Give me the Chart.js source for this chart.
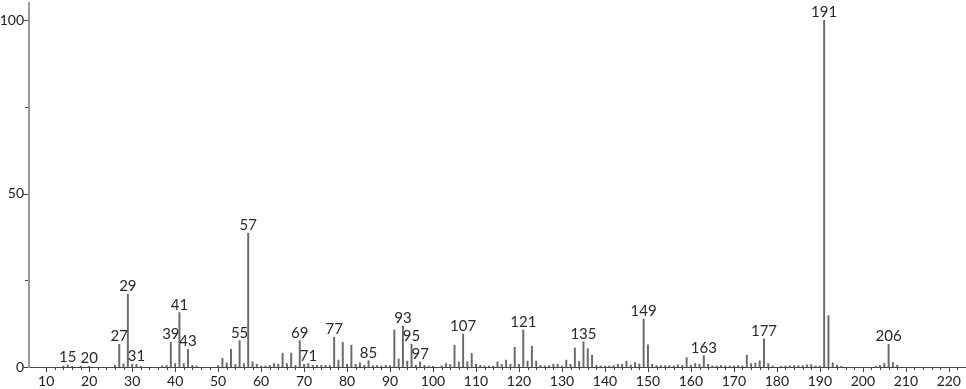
<!DOCTYPE html>
<html>
<head>
<meta charset="utf-8">
<script src="https://cdn.jsdelivr.net/npm/chart.js@4.4.1/dist/chart.umd.min.js"></script>
<style>
  body { margin: 0; background: #fff; }
  #wrap { width: 966px; height: 389px; position: relative; }
</style>
</head>
<body>
<div id="wrap"><canvas id="msChart"></canvas></div>
<script>
// m/z values and relative intensities (%)
const masses = [14, 15, 16, 18, 20, 26, 27, 28, 29, 30, 31, 32, 37, 38, 39, 40, 41, 42, 43, 44, 45,
  50, 51, 52, 53, 54, 55, 56, 57, 58, 59, 60, 61, 62, 63, 64, 65, 66, 67, 68, 69, 70,
  71, 72, 73, 74, 75, 76, 77, 78, 79, 80, 81, 82, 83, 84, 85, 86, 87, 88, 89, 90,
  91, 92, 93, 94, 95, 96, 97, 98, 99, 100, 102, 103, 104, 105, 106, 107, 108, 109, 110,
  111, 112, 113, 114, 115, 116, 117, 118, 119, 120, 121, 122, 123, 124, 125, 126, 127, 128, 129, 130,
  131, 132, 133, 134, 135, 136, 137, 138, 139, 140, 141, 142, 143, 144, 145, 146, 147, 148, 149, 150,
  151, 152, 153, 154, 155, 156, 157, 158, 159, 160, 161, 162, 163, 164, 165, 166, 167, 168, 169, 170,
  171, 172, 173, 174, 175, 176, 177, 178, 179, 181, 182, 183, 184, 185, 186, 187, 188, 189, 190,
  191, 192, 193, 194, 195, 203, 204, 205, 206, 207, 208];
const intensities = [0.3, 0.6, 0.2, 0.3, 0.2, 0.5, 6.5, 0.9, 21, 0.8, 0.8, 0.2, 0.3, 0.5, 7.1, 1.0, 15.7, 1.0, 5.1, 0.5, 0.3,
  0.4, 2.5, 1.2, 5.1, 0.7, 7.6, 1.0, 38.6, 1.5, 0.8, 0.3, 0.3, 0.5, 1.0, 0.8, 4.0, 1.0, 4.0, 0.5, 7.6, 0.8,
  1.0, 0.5, 0.5, 0.5, 0.5, 0.5, 8.6, 2.0, 7.1, 0.8, 6.3, 0.8, 1.2, 0.5, 1.8, 0.4, 0.4, 0.3, 0.5, 0.4,
  10.7, 2.3, 11.8, 1.7, 6.6, 0.5, 1.5, 0.5, 0.3, 0.2, 0.3, 1.0, 0.7, 6.3, 1.5, 9.5, 1.5, 3.9, 0.8,
  0.5, 0.3, 0.3, 0.3, 1.5, 0.8, 2.0, 0.8, 5.7, 0.8, 10.7, 1.7, 6.0, 1.7, 0.5, 0.3, 0.4, 0.8, 0.8, 0.3,
  2.0, 0.8, 5.5, 1.6, 7.3, 5.3, 3.4, 0.5, 0.3, 0.3, 0.3, 0.4, 0.8, 0.8, 1.7, 0.6, 1.3, 0.9, 13.8, 6.4,
  0.8, 0.4, 0.4, 0.4, 0.4, 0.3, 0.6, 0.5, 2.7, 0.5, 1.0, 0.8, 3.3, 0.8, 0.3, 0.3, 0.4, 0.3, 0.3, 0.3,
  0.4, 0.3, 3.4, 1.0, 1.1, 1.8, 8.1, 1.0, 0.3, 0.2, 0.3, 0.3, 0.4, 0.4, 0.4, 0.6, 0.7, 0.3, 0.3,
  100, 14.8, 1.2, 0.5, 0.2, 0.2, 0.5, 1.0, 6.5, 1.3, 0.5];
// peaks that get an m/z label
const labeledPeaks = [15, 20, 27, 29, 31, 39, 41, 43, 55, 57, 69, 71, 77, 85, 93, 95, 97, 107, 121, 135, 149, 163, 177, 191, 206];
const yLabels = [0, 50, 100];

const FONT = 'Lato, "DejaVu Sans", sans-serif';

const peakLabels = {
  id: 'peakLabels',
  afterDatasetsDraw(chart) {
    const ctx = chart.ctx;
    const meta = chart.getDatasetMeta(0);
    ctx.save();
    ctx.font = '15px ' + FONT;
    ctx.fillStyle = '#2a2a2a';
    ctx.textAlign = 'center';
    ctx.textBaseline = 'alphabetic';
    labeledPeaks.forEach(m => {
      const i = masses.indexOf(m);
      if (i < 0) return;
      const el = meta.data[i];
      ctx.fillText(String(m), el.x, el.y - 3);
    });
    ctx.restore();
  }
};

const axisTicks = {
  id: 'axisTicks',
  afterDraw(chart) {
    const {ctx, chartArea, scales: {x, y}} = chart;
    ctx.save();
    ctx.strokeStyle = '#444';
    ctx.lineWidth = 1;
    x.ticks.forEach(t => {
      if (t.value < 10 || t.value > 222) return;
      const px = Math.round(x.getPixelForValue(t.value)) + 0.5;
      const len = t.value % 10 === 0 ? 5 : 3;
      ctx.beginPath();
      ctx.moveTo(px, chartArea.bottom);
      ctx.lineTo(px, chartArea.bottom + len);
      ctx.stroke();
    });
    y.ticks.forEach(t => {
      if (t.value > 100) return;
      const py = Math.round(y.getPixelForValue(t.value)) + 0.5;
      const len = t.value % 50 === 0 ? 5 : 3;
      ctx.beginPath();
      ctx.moveTo(chartArea.left - 1, py);
      ctx.lineTo(chartArea.left - 1 - len, py);
      ctx.stroke();
    });
    ctx.restore();
  }
};

new Chart(document.getElementById('msChart'), {
  type: 'bar',
  data: {
    datasets: [{
      data: masses.map((m, i) => ({x: m, y: intensities[i]})),
      backgroundColor: '#6a6a6a',
      barThickness: 1.3
    }]
  },
  options: {
    responsive: true,
    maintainAspectRatio: false,
    animation: false,
    layout: {padding: {top: 3, right: 0, left: 0, bottom: 0}},
    plugins: {legend: {display: false}, tooltip: {enabled: false}},
    scales: {
      x: {
        type: 'linear',
        offset: false,
        min: 6,
        max: 224,
        grid: {display: false, drawTicks: false, offset: false},
        border: {display: true, color: '#444', width: 1},
        ticks: {
          stepSize: 2,
          autoSkip: false,
          maxRotation: 0,
          padding: 6,
          color: '#222',
          font: {family: FONT, size: 14},
          callback: v => (v % 10 === 0 && v >= 10 && v <= 220) ? String(v) : ''
        },
        afterFit: s => { s.height = 22; s.paddingLeft = 0; s.paddingRight = 0; }
      },
      y: {
        min: 0,
        max: 105,
        grid: {display: false, drawTicks: false},
        border: {display: true, color: '#999', width: 2},
        ticks: {
          stepSize: 25,
          padding: 5,
          color: '#222',
          font: {family: FONT, size: 14},
          callback: v => yLabels.includes(v) ? String(v) : ''
        },
        afterFit: s => { s.width = 29; s.paddingTop = 0; s.paddingBottom = 0; }
      }
    }
  },
  plugins: [peakLabels, axisTicks]
});
</script>
</body>
</html>
